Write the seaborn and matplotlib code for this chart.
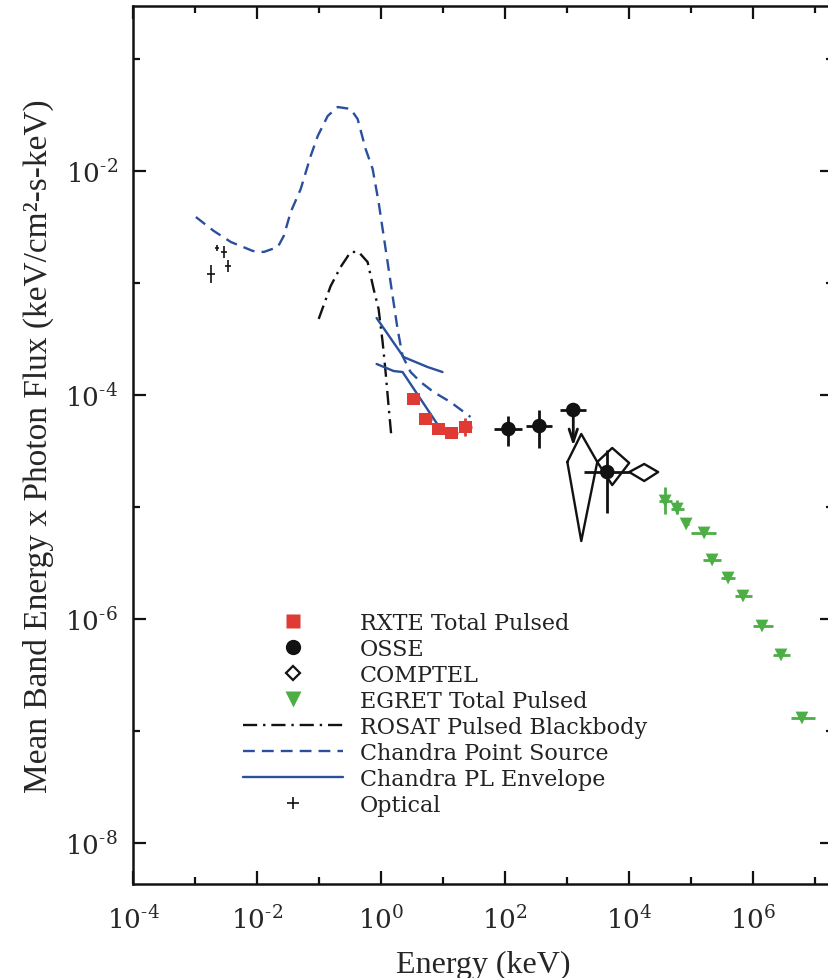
import numpy as np
import pandas as pd
import matplotlib
matplotlib.use("Agg")
import matplotlib.pyplot as plt
import seaborn as sns
from matplotlib.ticker import FixedLocator, FuncFormatter, NullFormatter
from matplotlib.lines import Line2D

# ---------------- data (log10 of energy [keV] and of E x flux) ----------------
chandra_ps_logE = [-2.986, -2.696, -2.422, -2.068, -1.891, -1.665, -1.568, -1.456, -1.295,
                   -1.134, -1.021, -0.860, -0.699, -0.490, -0.377, -0.248, -0.135, -0.039,
                   0.026, 0.106, 0.187, 0.267, 0.348, 0.477, 0.638, 0.847, 1.121, 1.443]
chandra_ps_logF = [-2.411, -2.536, -2.634, -2.714, -2.723, -2.679, -2.580, -2.366, -2.161,
                   -1.866, -1.688, -1.509, -1.429, -1.446, -1.536, -1.804, -1.982, -2.277,
                   -2.518, -2.813, -3.116, -3.411, -3.652, -3.795, -3.884, -3.973, -4.063, -4.196]

rosat_logE = [-1.005, -0.812, -0.651, -0.490, -0.361, -0.216, -0.119, -0.039, 0.026, 0.074, 0.122, 0.171]
rosat_logF = [-3.321, -3.027, -2.857, -2.723, -2.723, -2.813, -3.054, -3.232, -3.527, -3.795, -4.098, -4.393]

pl_upper_logE = [-0.071, 0.364, 0.750, 0.992]
pl_upper_logF = [-3.313, -3.661, -3.750, -3.795]
pl_lower_logE = [-0.071, 0.203, 0.348, 0.992]
pl_lower_logF = [-3.723, -3.786, -3.795, -4.330]

optical_logE = [-2.647, -2.535, -2.470, -2.744]
optical_logF = [-2.688, -2.723, -2.848, -2.920]
optical_logF_err = [0.03, 0.05, 0.05, 0.08]
optical_logE_err = [0.03, 0.05, 0.05, 0.06]

rxte_logE = [0.525, 0.718, 0.928, 1.137, 1.362]
rxte_logF = [-4.036, -4.214, -4.304, -4.339, -4.286]
rxte_logE_err = [0.10, 0.10, 0.10, 0.10, 0.10]
rxte_logF_err = [0.03, 0.03, 0.03, 0.04, 0.08]

osse_logE = [2.055, 2.554, 3.101, 3.649]
osse_logF = [-4.304, -4.277, -4.134, -4.688]
osse_logE_lo = [1.829, 2.345, 2.892, 3.279]
osse_logE_hi = [2.280, 2.763, 3.311, 4.003]
osse_logF_lo = [-4.455, -4.473, -4.134, -5.054]
osse_logF_hi = [-4.188, -4.134, -4.134, -4.491]
osse_upper_limit = [False, False, True, False]
osse_limit_logF = [None, None, -4.455, None]

comptel_poly = ["A", "A", "A", "A", "A", "B", "B", "B", "B", "B", "C", "C", "C", "C", "C"]
comptel_logE = [3.005, 3.230, 3.488, 3.230, 3.005,
                3.488, 3.729, 4.003, 3.729, 3.488,
                4.003, 4.245, 4.470, 4.245, 4.003]
comptel_logF = [-4.598, -4.348, -4.598, -5.304, -4.598,
                -4.598, -4.473, -4.607, -4.804, -4.598,
                -4.688, -4.616, -4.688, -4.768, -4.688]

egret_logE = [4.583, 4.776, 4.921, 5.211, 5.340, 5.598, 5.839, 6.145, 6.451, 6.789]
egret_logF = [-4.946, -5.018, -5.152, -5.232, -5.473, -5.634, -5.795, -6.063, -6.321, -6.884]
egret_logE_lo = [4.486, 4.680, 4.880, 5.002, 5.195, 5.485, 5.710, 6.000, 6.322, 6.612]
egret_logE_hi = [4.696, 4.889, 4.960, 5.404, 5.485, 5.710, 5.984, 6.322, 6.597, 6.998]
egret_logF_lo = [-5.063, -5.063, -5.152, -5.232, -5.473, -5.634, -5.795, -6.063, -6.321, -6.884]
egret_logF_hi = [-4.821, -4.938, -5.152, -5.232, -5.473, -5.634, -5.795, -6.063, -6.321, -6.884]

legend_labels = ["RXTE Total Pulsed", "OSSE", "COMPTEL", "EGRET Total Pulsed",
                 "ROSAT Pulsed Blackbody", "Chandra Point Source", "Chandra PL Envelope", "Optical"]

x_major_exp = [-4, -2, 0, 2, 4, 6]
x_minor_exp = [-3, -1, 1, 3, 5, 7]
y_major_exp = [-8, -6, -4, -2]
y_minor_exp = [-7, -5, -3, -1]

# ---------------- style ----------------
RED = "#df3a34"
GREEN = "#4cae45"
BLUE = "#2a4f9c"
BLACK = "#121212"

sns.set_style("ticks")
plt.rcParams["font.family"] = ["DejaVu Serif"]
plt.rcParams["mathtext.fontset"] = "custom"
plt.rcParams["mathtext.rm"] = "DejaVu Serif"

def p(v):
    return 10.0 ** np.asarray(v, dtype=float)

fig = plt.figure(figsize=(8.29, 9.79), dpi=100)
ax = fig.add_axes([133 / 829, 94 / 979, 700 / 829, 878 / 979])
ax.set_xscale("log")
ax.set_yscale("log")

# curves
sns.lineplot(x=p(chandra_ps_logE), y=p(chandra_ps_logF), sort=False, estimator=None,
             color=BLUE, lw=1.7, linestyle=(0, (5, 3)), ax=ax)
sns.lineplot(x=p(rosat_logE), y=p(rosat_logF), sort=False, estimator=None,
             color=BLACK, lw=1.7, linestyle=(0, (6, 2.5, 1, 2.5)), ax=ax)
sns.lineplot(x=p(pl_upper_logE), y=p(pl_upper_logF), sort=False, estimator=None,
             color=BLUE, lw=1.7, ax=ax)
sns.lineplot(x=p(pl_lower_logE), y=p(pl_lower_logF), sort=False, estimator=None,
             color=BLUE, lw=1.7, ax=ax)

# COMPTEL bow-ties
comp_df = pd.DataFrame({"E": p(comptel_logE), "F": p(comptel_logF), "poly": comptel_poly})
sns.lineplot(data=comp_df, x="E", y="F", units="poly", estimator=None, sort=False,
             color=BLACK, lw=1.7, ax=ax)

# optical
oE = p(optical_logE); oF = p(optical_logF)
ax.errorbar(oE, oF,
            xerr=[oE - p(np.array(optical_logE) - optical_logE_err), p(np.array(optical_logE) + optical_logE_err) - oE],
            yerr=[oF - p(np.array(optical_logF) - optical_logF_err), p(np.array(optical_logF) + optical_logF_err) - oF],
            fmt="none", ecolor=BLACK, elinewidth=1.2, capsize=0, zorder=3)

# RXTE
rE = p(rxte_logE); rF = p(rxte_logF)
ax.errorbar(rE, rF,
            xerr=[rE - p(np.array(rxte_logE) - rxte_logE_err), p(np.array(rxte_logE) + rxte_logE_err) - rE],
            yerr=[rF - p(np.array(rxte_logF) - rxte_logF_err), p(np.array(rxte_logF) + rxte_logF_err) - rF],
            fmt="none", ecolor=RED, elinewidth=2, capsize=0, zorder=3)
sns.scatterplot(x=rE, y=rF, marker="s", s=80, color=RED, edgecolor="none", ax=ax, zorder=4)

# OSSE
sE = p(osse_logE); sF = p(osse_logF)
ax.errorbar(sE, sF,
            xerr=[sE - p(osse_logE_lo), p(osse_logE_hi) - sE],
            yerr=[sF - p(osse_logF_lo), p(osse_logF_hi) - sF],
            fmt="none", ecolor=BLACK, elinewidth=2, capsize=0, zorder=3)
sns.scatterplot(x=sE, y=sF, marker="o", s=110, color=BLACK, edgecolor="none", ax=ax, zorder=4)
for e, f, lim, lf in zip(sE, sF, osse_upper_limit, osse_limit_logF):
    if lim:
        ax.annotate("", xy=(e, 10.0 ** lf), xytext=(e, f),
                    arrowprops=dict(arrowstyle="->,head_length=0.9,head_width=0.3", lw=2, color=BLACK,
                                    shrinkA=0, shrinkB=0))

# EGRET
gE = p(egret_logE); gF = p(egret_logF)
ax.errorbar(gE, gF,
            xerr=[gE - p(egret_logE_lo), p(egret_logE_hi) - gE],
            yerr=[gF - p(egret_logF_lo), p(egret_logF_hi) - gF],
            fmt="none", ecolor=GREEN, elinewidth=2, capsize=0, zorder=3)
sns.scatterplot(x=gE, y=gF, marker="v", s=85, color=GREEN, edgecolor="none", ax=ax, zorder=4)

# ---------------- axes ----------------
ax.set_xlim(1e-4, 10 ** 7.29)
ax.set_ylim(10 ** -8.366, 10 ** -0.527)

HY = "\u2010"

def fmt(v, pos):
    e = int(round(np.log10(v)))
    if e < 0:
        return "$\\mathrm{10^{" + HY + str(-e) + "}}$"
    return "$\\mathrm{10^{" + str(e) + "}}$"

ax.xaxis.set_major_locator(FixedLocator(p(x_major_exp)))
ax.xaxis.set_minor_locator(FixedLocator(p(x_minor_exp)))
ax.yaxis.set_major_locator(FixedLocator(p(y_major_exp)))
ax.yaxis.set_minor_locator(FixedLocator(p(y_minor_exp)))
ax.xaxis.set_major_formatter(FuncFormatter(fmt))
ax.yaxis.set_major_formatter(FuncFormatter(fmt))
ax.xaxis.set_minor_formatter(NullFormatter())
ax.yaxis.set_minor_formatter(NullFormatter())
ax.tick_params(which="both", direction="in", top=True, right=True, width=1.6, color=BLACK)
ax.tick_params(which="major", length=9.5, labelsize=19)
ax.tick_params(axis="x", which="major", pad=15)
ax.tick_params(axis="y", which="major", pad=11)
ax.tick_params(which="minor", length=5)
for s in ax.spines.values():
    s.set_linewidth(1.8)
    s.set_color(BLACK)

ax.set_xlabel("Energy (keV)", family="Liberation Serif", fontsize=23, labelpad=12)
ax.set_ylabel("Mean Band Energy x Photon Flux (keV/cm²-s-keV)", family="Liberation Serif",
              fontsize=24, labelpad=8)

# ---------------- legend ----------------
handles = [
    Line2D([], [], ls="none", marker="s", ms=10, color=RED, mec="none"),
    Line2D([], [], ls="none", marker="o", ms=11, color=BLACK, mec="none"),
    Line2D([], [], ls="none", marker="D", ms=7, mfc="white", mec=BLACK, mew=1.6),
    Line2D([], [], ls="none", marker="v", ms=11, color=GREEN, mec="none"),
    Line2D([], [], color=BLACK, lw=1.7, ls=(0, (6, 2.5, 1, 2.5))),
    Line2D([], [], color=BLUE, lw=1.7, ls=(0, (5, 3))),
    Line2D([], [], color=BLUE, lw=1.7),
    Line2D([], [], ls="none", marker="+", ms=9, color=BLACK, mew=1.2),
]
leg = ax.legend(handles, legend_labels, loc="upper left", bbox_to_anchor=(0.157, 0.3095),
                frameon=False, fontsize=16, handlelength=4.5, handletextpad=0.75,
                labelspacing=0.18, borderpad=0, borderaxespad=0)
for t in leg.get_texts():
    t.set_color("#222222")

fig.savefig("out.png", dpi=100)
